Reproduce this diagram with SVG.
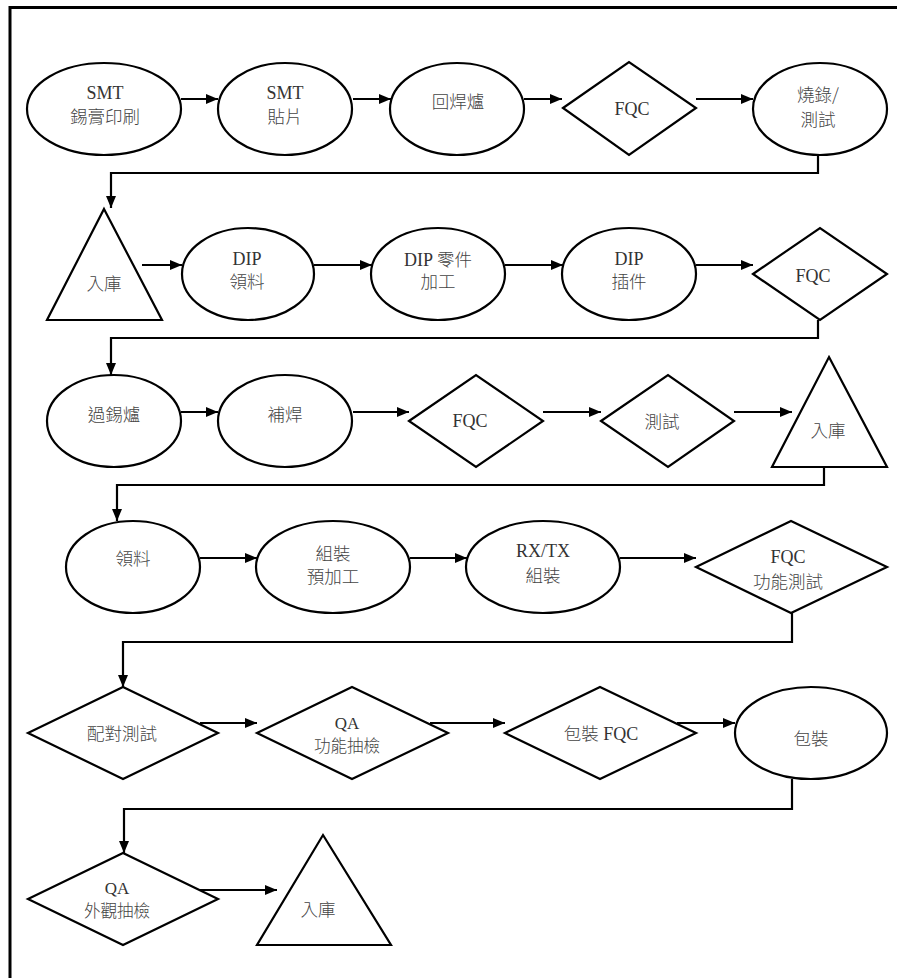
<svg xmlns="http://www.w3.org/2000/svg" width="897" height="980" viewBox="0 0 897 980">
<defs>
<marker id="ah" markerWidth="12" markerHeight="10" refX="12" refY="5" orient="auto" markerUnits="userSpaceOnUse">
<path d="M0,0 L12,5 L0,10 Z" fill="#000"/>
</marker>
<style>
.s{fill:#fff;stroke:#000;stroke-width:2.2}
.c{fill:none;stroke:#000;stroke-width:2.2;marker-end:url(#ah)}
.f{fill:none;stroke:#000;stroke-width:3}
text{font-size:18px;text-anchor:middle}
.l{font-family:"Liberation Serif","Times New Roman",serif;font-weight:400;fill:#333}
.k{font-family:"Noto Sans CJK TC","Noto Sans CJK SC",sans-serif;font-weight:300;fill:#444;font-size:17.5px}
.sm{font-size:16.5px}
.sl{font-size:17px}
</style>
</defs>
<rect width="897" height="980" fill="#fff"/>
<g id="frame">
<line class="f" x1="10" y1="7.5" x2="897" y2="7.5"/>
<line class="f" x1="10" y1="6" x2="10" y2="978"/>
</g>
<g id="connectors">
<line class="c" x1="181" y1="99" x2="218" y2="99"/>
<line class="c" x1="353" y1="99" x2="391" y2="99"/>
<line class="c" x1="524" y1="99" x2="562" y2="99"/>
<line class="c" x1="696" y1="99" x2="753" y2="99"/>
<polyline class="c" points="818,155 818,173 111,173 111,208"/>
<line class="c" x1="142" y1="265" x2="182" y2="265"/>
<line class="c" x1="314" y1="265" x2="372" y2="265"/>
<line class="c" x1="505" y1="265" x2="563" y2="265"/>
<line class="c" x1="696" y1="265" x2="753" y2="265"/>
<polyline class="c" points="818,320 818,338 111,338 111,375"/>
<line class="c" x1="181" y1="412" x2="218" y2="412"/>
<line class="c" x1="353" y1="412" x2="409" y2="412"/>
<line class="c" x1="543" y1="412" x2="601" y2="412"/>
<line class="c" x1="734" y1="412" x2="792" y2="412"/>
<polyline class="c" points="824,467 824,485 117,485 117,521"/>
<line class="c" x1="200" y1="558" x2="257" y2="558"/>
<line class="c" x1="410" y1="558" x2="467" y2="558"/>
<line class="c" x1="620" y1="558" x2="696" y2="558"/>
<polyline class="c" points="792,613 792,642 123,642 123,687"/>
<line class="c" x1="200" y1="723" x2="257" y2="723"/>
<line class="c" x1="430" y1="723" x2="505" y2="723"/>
<line class="c" x1="677" y1="723" x2="735" y2="723"/>
<polyline class="c" points="792,779 792,809 124,809 124,853"/>
<line class="c" x1="200" y1="890" x2="277" y2="890"/>
</g>
<g id="n1"><ellipse class="s" cx="104" cy="109" rx="77" ry="46"/><text class="l" x="105" y="99">SMT</text><text class="k" x="105" y="123">錫膏印刷</text></g>
<g id="n2"><ellipse class="s" cx="285" cy="109" rx="67" ry="46"/><text class="l" x="285" y="99">SMT</text><text class="k" x="285" y="123">貼片</text></g>
<g id="n3"><ellipse class="s" cx="457" cy="109" rx="67" ry="46"/><text class="k" x="458" y="108">回焊爐</text></g>
<g id="n4"><polygon class="s" points="563,108 629,62 696,108 629,155"/><text class="l" x="632" y="115">FQC</text></g>
<g id="n5"><ellipse class="s" cx="820" cy="109" rx="67" ry="46"/><text class="k" x="818" y="101">燒錄/</text><text class="k" x="818" y="126">測試</text></g>
<g id="n6"><polygon class="s" points="104,209 162,320 47,320"/><text class="k" x="104" y="290">入庫</text></g>
<g id="n7"><ellipse class="s" cx="248" cy="274" rx="66" ry="46"/><text class="l" x="247" y="265">DIP</text><text class="k" x="247" y="288">領料</text></g>
<g id="n8"><ellipse class="s" cx="438" cy="274" rx="67" ry="46"/><text class="l" x="438" y="266">DIP <tspan class="k">零件</tspan></text><text class="k" x="438" y="288">加工</text></g>
<g id="n9"><ellipse class="s" cx="629" cy="274" rx="67" ry="46"/><text class="l" x="629" y="265">DIP</text><text class="k" x="629" y="288">插件</text></g>
<g id="n10"><polygon class="s" points="753,274 820,228 887,274 820,320"/><text class="l" x="813" y="282">FQC</text></g>
<g id="n11"><ellipse class="s" cx="114" cy="421" rx="67" ry="46"/><text class="k" x="114" y="421">過錫爐</text></g>
<g id="n12"><ellipse class="s" cx="285" cy="421" rx="67" ry="46"/><text class="k" x="285" y="421">補焊</text></g>
<g id="n13"><polygon class="s" points="409,421 476,375 543,421 476,467"/><text class="l" x="470" y="427">FQC</text></g>
<g id="n14"><polygon class="s" points="601,421 668,375 734,421 668,467"/><text class="k" x="662" y="428">測試</text></g>
<g id="n15"><polygon class="s" points="829,357 887,467 772,467"/><text class="k" x="828" y="437">入庫</text></g>
<g id="n16"><ellipse class="s" cx="133" cy="567" rx="67" ry="46"/><text class="k" x="133" y="565">領料</text></g>
<g id="n17"><ellipse class="s" cx="333" cy="567" rx="77" ry="46"/><text class="k" x="333" y="560">組裝</text><text class="k" x="333" y="583">預加工</text></g>
<g id="n18"><ellipse class="s" cx="543" cy="567" rx="77" ry="46"/><text class="l" x="543" y="557">RX/TX</text><text class="k" x="543" y="582">組裝</text></g>
<g id="n19"><polygon class="s" points="696,567 791,521 887,567 791,613"/><text class="l" x="788" y="563">FQC</text><text class="k" x="788" y="588">功能測試</text></g>
<g id="n20"><polygon class="s" points="28,733 123,687 218,733 123,779"/><text class="k" x="122" y="740">配對測試</text></g>
<g id="n21"><polygon class="s" points="257,733 352,687 448,733 352,779"/><text class="l sl" x="347" y="729">QA</text><text class="k sm" x="347" y="752">功能抽檢</text></g>
<g id="n22"><polygon class="s" points="505,733 600,687 696,733 600,779"/><text class="l" x="601" y="740"><tspan class="k">包裝</tspan> FQC</text></g>
<g id="n23"><ellipse class="s" cx="811" cy="733" rx="76" ry="46"/><text class="k" x="811" y="745">包裝</text></g>
<g id="n24"><polygon class="s" points="28,899 123,853 218,899 123,945"/><text class="l sl" x="117" y="894">QA</text><text class="k sm" x="117" y="917">外觀抽檢</text></g>
<g id="n25"><polygon class="s" points="323,835 391,945 257,945"/><text class="k" x="318" y="916">入庫</text></g>
</svg>
